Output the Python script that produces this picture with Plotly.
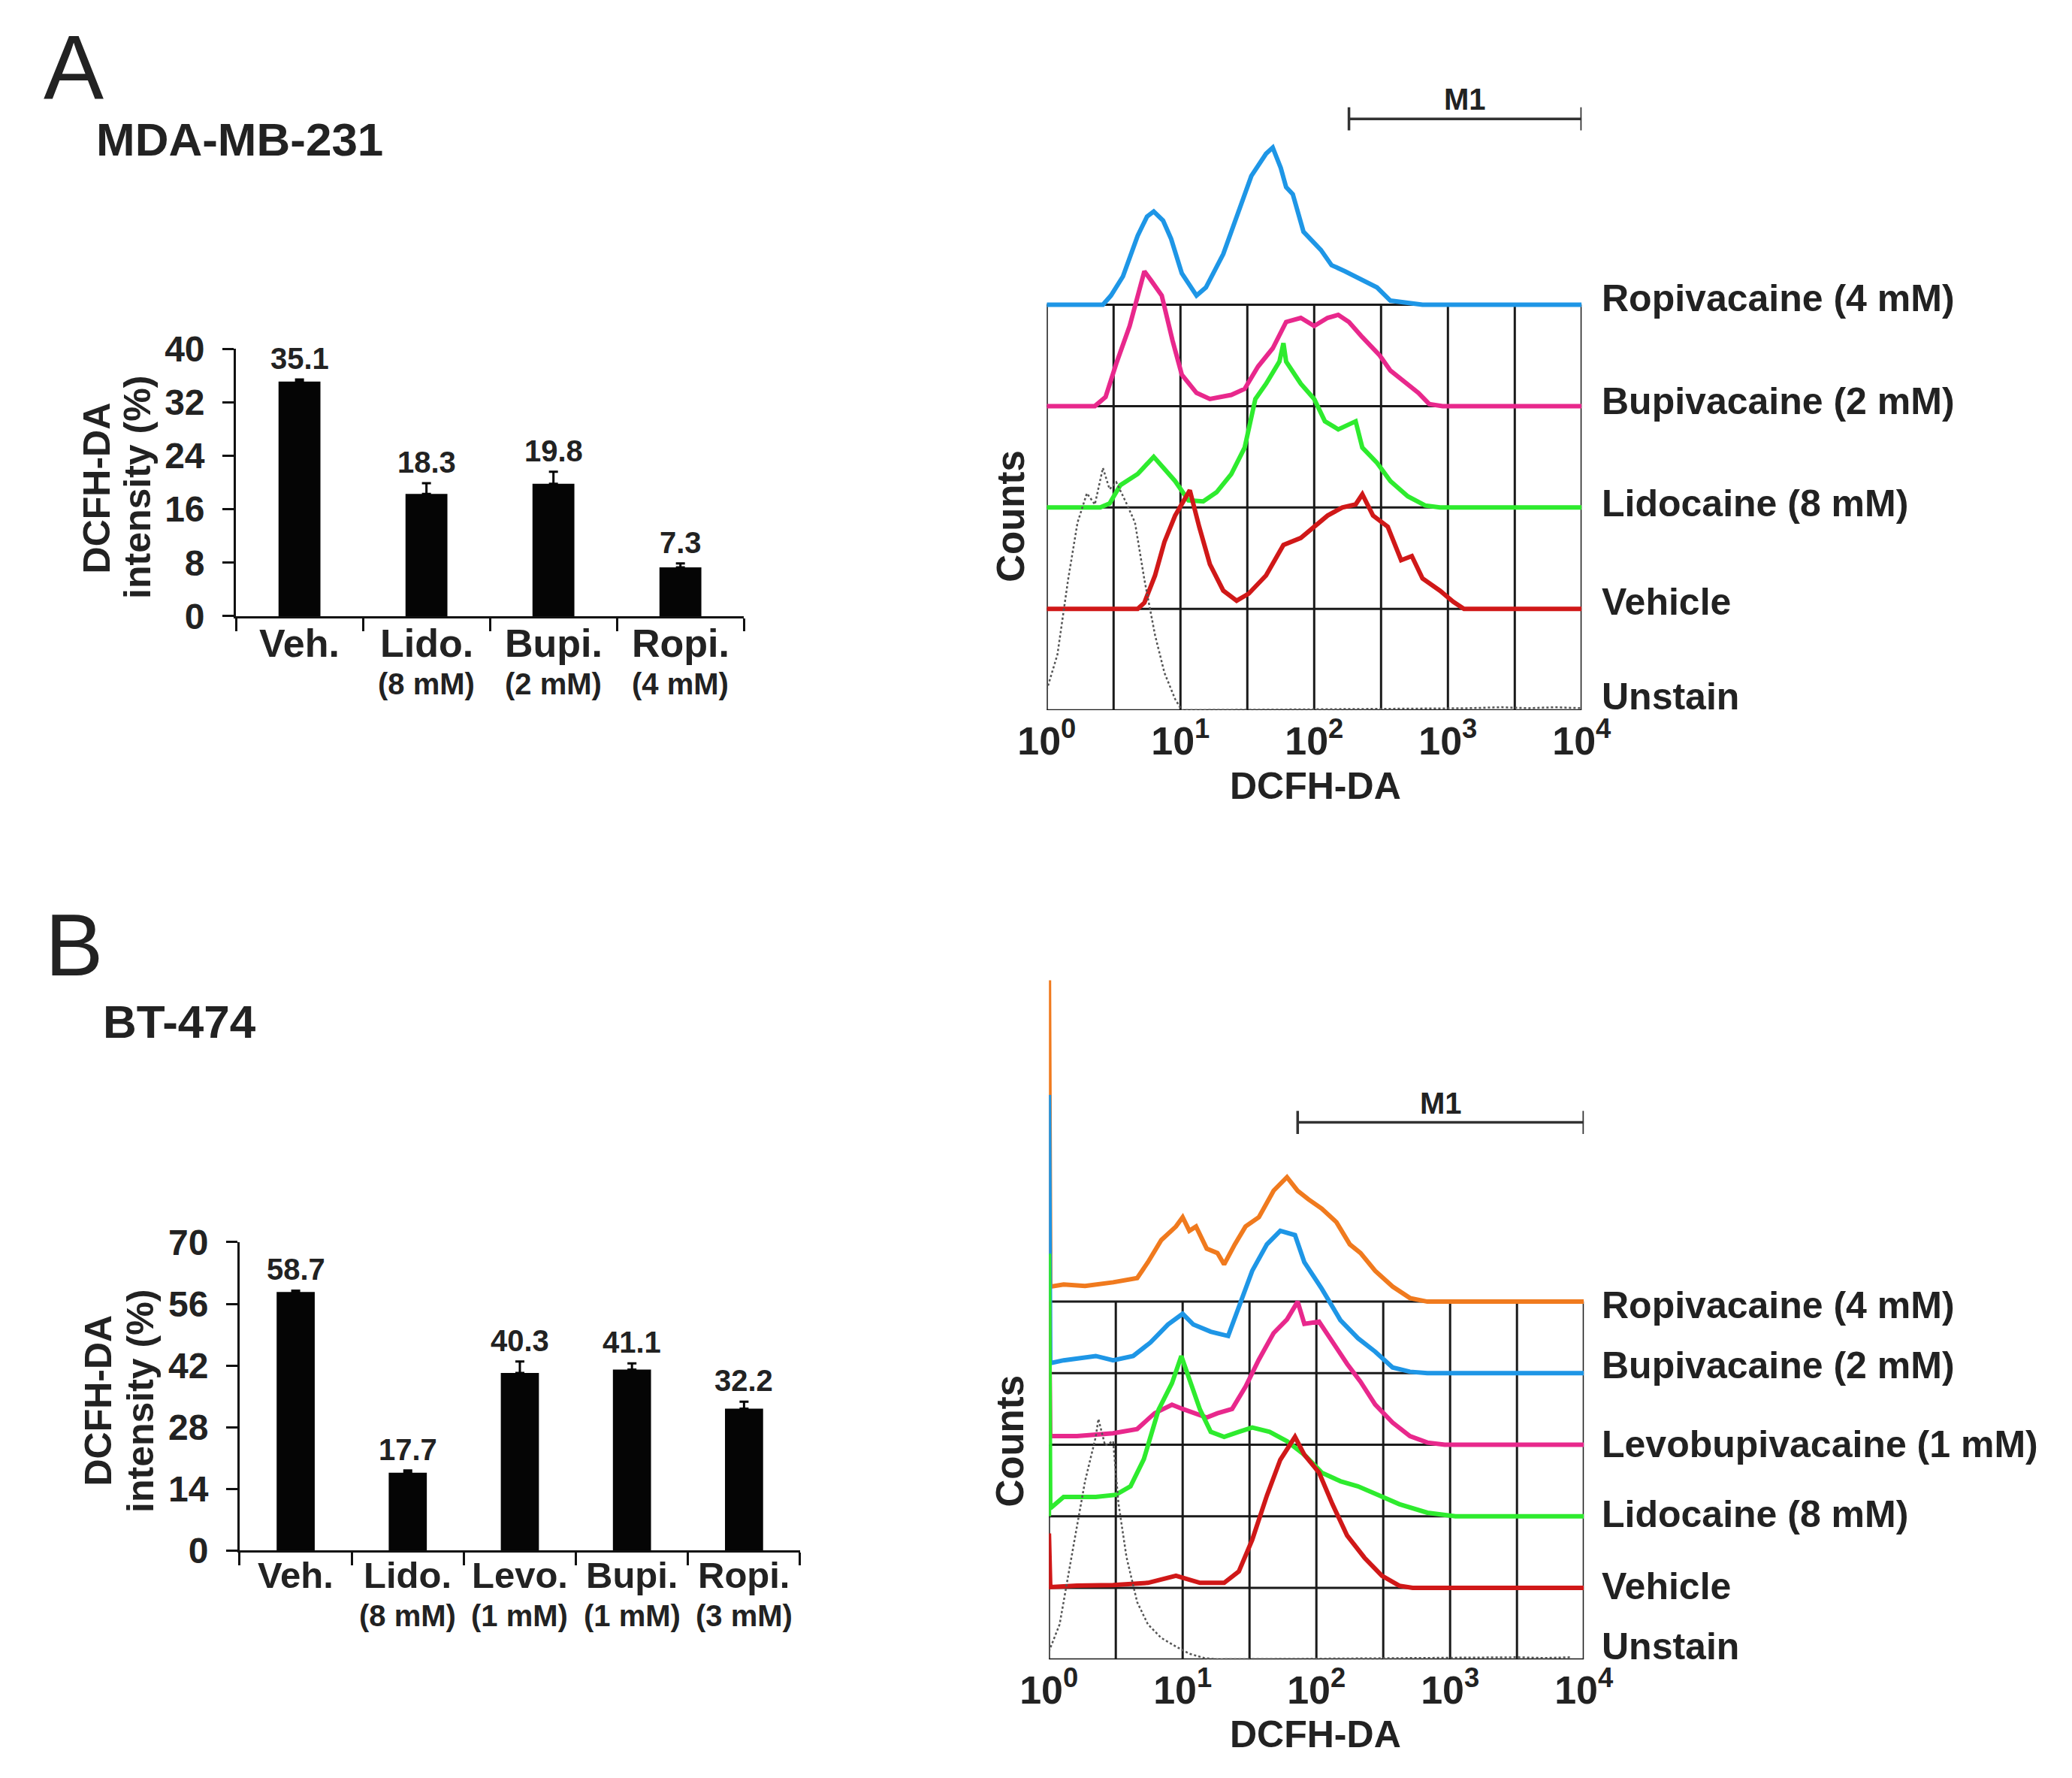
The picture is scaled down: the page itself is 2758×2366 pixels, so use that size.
import plotly.graph_objects as go

# ---------------- data ----------------
# bar chart A (MDA-MB-231)
a_cats = ["Veh.", "Lido.", "Bupi.", "Ropi."]
a_doses = ["", "(8 mM)", "(2 mM)", "(4 mM)"]
a_vals = [35.1, 18.3, 19.8, 7.3]
a_errs = [0.3, 1.6, 1.8, 0.6]
a_yticks = [0, 8, 16, 24, 32, 40]

# bar chart B (BT-474)
b_cats = ["Veh.", "Lido.", "Levo.", "Bupi.", "Ropi."]
b_doses = ["", "(8 mM)", "(1 mM)", "(1 mM)", "(3 mM)"]
b_vals = [58.7, 17.7, 40.3, 41.1, 32.2]
b_errs = [0.3, 0.5, 2.6, 1.4, 1.6]
b_yticks = [0, 14, 28, 42, 56, 70]

# histograms, x in decades of DCFH-DA (10^x), counts in lane units (100 = one lane)
a_ropi_x = [0, 0.42, 0.48, 0.57, 0.68, 0.75, 0.80, 0.87, 0.93, 1.01, 1.12, 1.19, 1.32, 1.43, 1.53,
            1.64, 1.69, 1.75, 1.79, 1.84, 1.92, 2.05, 2.13, 2.23, 2.36, 2.47, 2.57, 2.68, 2.81, 4.0]
a_ropi_y = [0, 0, 9, 28, 68, 87, 92, 83, 65, 31, 9, 17, 50, 90, 127,
            149, 155, 135, 116, 109, 72, 54, 39, 33, 24, 17, 4, 2, 0, 0]
a_bupi_x = [0, 0.36, 0.44, 0.52, 0.62, 0.70, 0.73, 0.78, 0.86, 0.94, 1.01, 1.12, 1.22, 1.38, 1.48, 1.58,
            1.69, 1.79, 1.90, 2.00, 2.10, 2.18, 2.26, 2.36, 2.49, 2.57, 2.68, 2.78, 2.86, 2.96, 4.0]
a_bupi_y = [0, 0, 9, 42, 79, 116, 133, 124, 109, 65, 31, 13, 7, 11, 17, 39,
            57, 83, 87, 79, 87, 90, 83, 68, 50, 35, 24, 13, 2, 0, 0]
a_lido_x = [0, 0.40, 0.47, 0.55, 0.68, 0.80, 0.86, 0.96, 1.06, 1.17, 1.27, 1.38, 1.48, 1.56, 1.64,
            1.74, 1.77, 1.79, 1.90, 2.00, 2.08, 2.18, 2.31, 2.36, 2.47, 2.57, 2.70, 2.83, 2.94, 4.0]
a_lido_y = [0, 0, 4, 22, 33, 50, 41, 26, 7, 6, 15, 33, 59, 107, 122,
            144, 162, 144, 122, 107, 85, 77, 85, 59, 44, 26, 11, 2, 0, 0]
a_veh_x = [0, 0.68, 0.73, 0.81, 0.88, 0.96, 1.07, 1.10, 1.14, 1.22, 1.32, 1.42, 1.51, 1.64, 1.77,
           1.90, 2.00, 2.10, 2.21, 2.31, 2.36, 2.44, 2.55, 2.65, 2.73, 2.81, 2.94, 3.04, 3.12, 4.0]
a_veh_y = [0, 0, 6, 33, 66, 92, 117, 100, 81, 44, 18, 8, 15, 33, 63,
           70, 81, 92, 100, 103, 113, 92, 81, 48, 52, 30, 18, 7, 0, 0]
a_uns_x = [0, 0.08, 0.16, 0.23, 0.30, 0.36, 0.42, 0.47, 0.52, 0.60, 0.66, 0.73, 0.81, 0.88, 0.96,
           1.01, 3.15, 3.4, 3.6, 3.8, 4.0]
a_uns_y = [20, 55, 129, 185, 214, 203, 239, 218, 225, 203, 185, 129, 74, 37, 11,
           0, 2, 3, 2, 3, 2]

b_ropi_x = [0, 0, 0.01, 0.11, 0.27, 0.48, 0.66, 0.74, 0.84, 0.95, 1.00, 1.05, 1.10, 1.18, 1.26, 1.31,
            1.39, 1.47, 1.57, 1.68, 1.78, 1.86, 1.94, 2.04, 2.15, 2.25, 2.33, 2.44, 2.57, 2.70, 2.83, 4.0]
b_ropi_y = [0, 449, 21, 24, 22, 27, 33, 55, 86, 105, 118, 99, 105, 74, 68, 52,
            80, 105, 118, 155, 174, 155, 143, 130, 111, 80, 68, 43, 21, 5, 0, 0]
b_bupi_x = [0, 0, 0.01, 0.11, 0.35, 0.48, 0.63, 0.76, 0.89, 1.00, 1.08, 1.21, 1.34, 1.42, 1.52,
            1.63, 1.73, 1.84, 1.91, 2.04, 2.18, 2.31, 2.44, 2.57, 2.70, 2.83, 4.0]
b_bupi_y = [0, 389, 14, 18, 24, 18, 24, 43, 68, 83, 68, 58, 52, 93, 143,
            180, 199, 193, 155, 118, 74, 49, 30, 8, 2, 0, 0]
b_levo_x = [0, 0, 0.01, 0.21, 0.48, 0.66, 0.79, 0.92, 1.00, 1.10, 1.18, 1.26, 1.37, 1.47, 1.57,
            1.68, 1.78, 1.86, 1.91, 2.02, 2.12, 2.23, 2.33, 2.44, 2.57, 2.70, 2.83, 2.96, 4.0]
b_levo_y = [0, 200, 12, 12, 16, 22, 44, 56, 50, 44, 38, 44, 50, 81, 119,
            156, 175, 200, 169, 172, 144, 113, 88, 56, 31, 12, 3, 0, 0]
b_lido_x = [0, 0, 0.01, 0.11, 0.35, 0.50, 0.61, 0.71, 0.82, 0.92, 0.99, 1.05, 1.13, 1.21, 1.31,
            1.42, 1.52, 1.65, 1.78, 1.91, 2.04, 2.18, 2.31, 2.46, 2.62, 2.83, 3.04, 4.0]
b_lido_y = [0, 367, 11, 27, 27, 30, 42, 80, 149, 186, 224, 193, 149, 118, 111,
            118, 124, 118, 105, 86, 61, 49, 42, 30, 17, 5, 0, 0]
b_veh_x = [0, 0, 0.01, 0.21, 0.48, 0.74, 0.95, 1.13, 1.31, 1.42, 1.52, 1.63, 1.73, 1.84, 1.91,
           2.02, 2.12, 2.23, 2.36, 2.49, 2.62, 2.72, 4.0]
b_veh_y = [0, 76, 1, 3, 4, 7, 17, 7, 7, 23, 67, 129, 179, 211, 186,
           161, 117, 73, 42, 17, 3, 0, 0]
b_uns_x = [0, 0.08, 0.18, 0.27, 0.35, 0.37, 0.42, 0.48, 0.52, 0.58, 0.66, 0.74, 0.84, 0.95,
           1.05, 1.16, 1.26, 3.2, 3.5, 3.7, 3.9]
b_uns_y = [11, 49, 155, 249, 311, 336, 299, 305, 218, 143, 80, 49, 30, 18,
           8, 2, 0, 2, 3, 2, 3]

a_m1 = [2.26, 4.0]
b_m1 = [1.86, 4.0]
decade_ticks = [0, 1, 2, 3, 4]
decade_text = ["10<sup>0</sup>", "10<sup>1</sup>", "10<sup>2</sup>", "10<sup>3</sup>", "10<sup>4</sup>"]

# ---------------- layout helpers ----------------
W, H = 2758, 2366
OFF = 8  # the page's body margin pushes the figure by this much
FONT = "Liberation Sans, Arial, sans-serif"
INK = "#222222"


def xp(px):
    return (px - OFF) / W


def yp(py):
    return 1 - (py - OFF) / H


fig = go.Figure()
annotations = []
shapes = []


def ann(text, x, y, size, bold=True, angle=0, xanchor="center", yanchor="middle"):
    annotations.append(dict(
        text=text, x=xp(x), y=yp(y), xref="paper", yref="paper", showarrow=False,
        xanchor=xanchor, yanchor=yanchor, textangle=angle,
        font=dict(family=FONT, size=size, color=INK, weight="bold" if bold else "normal")))


def bar_panel(n, cats, doses, vals, errs, yticks, x0, x1, y0, y1, bar_w, cat_size, cat_dy, dose_dy):
    fig.add_trace(go.Bar(
        x=cats, y=vals, width=bar_w, marker=dict(color="#050505", line=dict(width=0)),
        error_y=dict(type="data", symmetric=False, array=errs, arrayminus=[0] * len(errs),
                     color="#050505", thickness=3, width=6),
        xaxis=f"x{n}", yaxis=f"y{n}", showlegend=False))
    fig.update_layout(**{
        f"xaxis{n}": dict(domain=[xp(x0), xp(x1)], anchor=f"y{n}", type="category",
                          range=[-0.5, len(cats) - 0.5], showline=True, linewidth=3, linecolor="#111",
                          ticks="outside", tickson="boundaries", ticklen=17, tickwidth=3,
                          tickcolor="#111", showgrid=False, showticklabels=False),
        f"yaxis{n}": dict(domain=[yp(y0), yp(y1)], anchor=f"x{n}", range=[0, yticks[-1]],
                          tickvals=yticks, showline=True, linewidth=3, linecolor="#111",
                          ticks="outside", ticklen=15, tickwidth=3, tickcolor="#111",
                          showgrid=False, zeroline=False, ticklabelstandoff=14,
                          tickfont=dict(family=FONT, size=48, color=INK, weight="bold")),
    })
    for c, v, e in zip(cats, vals, errs):
        annotations.append(dict(
            text=f"{v}", x=c, y=v + e, xref=f"x{n}", yref=f"y{n}", showarrow=False,
            yanchor="bottom", yshift=4,
            font=dict(family=FONT, size=40, color=INK, weight="bold")))
    # category names and doses under the axis
    for c, d in zip(cats, doses):
        annotations.append(dict(
            text=c, x=c, y=yp(y0 + cat_dy), xref=f"x{n}", yref="paper", showarrow=False,
            yanchor="middle", font=dict(family=FONT, size=cat_size, color=INK, weight="bold")))
        if d:
            annotations.append(dict(
                text=d, x=c, y=yp(y0 + dose_dy), xref=f"x{n}", yref="paper", showarrow=False,
                yanchor="middle", font=dict(family=FONT, size=40, color=INK, weight="bold")))


def hist_panel(n, curves, labels, x0, x1, base_px, lane_px, top_px, m1, m1_px, label_shift):
    lanes = len(curves) - 1
    top = (base_px - top_px) / lane_px * 100
    fig.update_layout(**{
        f"xaxis{n}": dict(domain=[xp(x0), xp(x1)], anchor=f"y{n}", range=[0, 4],
                          tickvals=decade_ticks, ticktext=decade_text, ticks="",
                          showline=False, showgrid=False, zeroline=False, ticklabelstandoff=6,
                          tickfont=dict(family=FONT, size=52, color=INK, weight="bold")),
        f"yaxis{n}": dict(domain=[yp(base_px), yp(top_px)], anchor=f"x{n}", range=[0, top],
                          visible=False),
    })
    # grid: half-decade verticals and one horizontal per lane baseline
    for k in range(9):
        shapes.append(dict(type="line", xref=f"x{n}", yref=f"y{n}", x0=k * 0.5, x1=k * 0.5,
                           y0=0, y1=lanes * 100, line=dict(color="#1a1a1a", width=3),
                           layer="below"))
    for lane in range(lanes + 1):
        shapes.append(dict(type="line", xref=f"x{n}", yref=f"y{n}", x0=0, x1=4,
                           y0=lane * 100, y1=lane * 100, line=dict(color="#1a1a1a", width=3),
                           layer="below"))
    # curves, drawn from the top lane down
    for (xs, ys, color, dash), lane in zip(curves, range(lanes, -1, -1)):
        fig.add_trace(go.Scatter(
            x=xs, y=[v + lane * 100 for v in ys], mode="lines",
            line=dict(color=color, width=2.5 if dash else 6, dash=dash or "solid"),
            xaxis=f"x{n}", yaxis=f"y{n}", showlegend=False))
    # M1 marker gate
    m1_y = (base_px - m1_px) / lane_px * 100
    fig.add_trace(go.Scatter(
        x=m1, y=[m1_y, m1_y], mode="lines+markers", line=dict(color="#333", width=3.5),
        marker=dict(symbol="line-ns", size=22, line=dict(color="#333", width=3.5)),
        xaxis=f"x{n}", yaxis=f"y{n}", showlegend=False))
    annotations.append(dict(
        text="M1", x=(m1[0] + m1[1]) / 2, y=m1_y, xref=f"x{n}", yref=f"y{n}", showarrow=False,
        yanchor="middle", yshift=26, font=dict(family=FONT, size=40, color=INK, weight="bold")))
    for (label, shift), lane in zip(zip(labels, label_shift), range(lanes, -1, -1)):
        annotations.append(dict(
            text=label, x=xp(2152), y=lane * 100, xref="paper", yref=f"y{n}", showarrow=False,
            xanchor="left", yanchor="middle", yshift=shift,
            font=dict(family=FONT, size=50, color=INK, weight="bold")))


BLUE, PINK, GREEN, RED, ORANGE, GRAY = "#1e96e6", "#e8288c", "#2eeb2e", "#d01818", "#f07a1e", "#555555"

# ---------------- panel A ----------------
ann("A", 61, 64, 120, bold=False)
ann("MDA-MB-231", 288, 163, 62)
bar_panel("", a_cats, a_doses, a_vals, a_errs, a_yticks, 283, 979, 812, 448, 0.33, 52, 37, 92)
ann("DCFH-DA", 92, 638, 50, angle=-90)
ann("intensity (%)", 148, 636, 50, angle=-90)

hist_panel(2, [(a_ropi_x, a_ropi_y, BLUE, None), (a_bupi_x, a_bupi_y, PINK, None),
               (a_lido_x, a_lido_y, GREEN, None), (a_veh_x, a_veh_y, RED, None),
               (a_uns_x, a_uns_y, GRAY, "dot")],
           ["Ropivacaine (4 mM)", "Bupivacaine (2 mM)", "Lidocaine (8 mM)", "Vehicle", "Unstain"],
           1394, 2127, 940, 138, 60, a_m1, 135, [8, 6, 5, 9, 18])
ann("DCFH-DA", 1762, 1043, 50)
ann("Counts", 1344, 676, 51, angle=-90)

# ---------------- panel B ----------------
ann("B", 61, 1260, 116, bold=False)
ann("BT-474", 206, 1364, 62)
bar_panel(3, b_cats, b_doses, b_vals, b_errs, b_yticks, 288, 1056, 2084, 1664, 0.34, 49, 33, 88)
ann("DCFH-DA", 95, 1880, 50, angle=-90)
ann("intensity (%)", 152, 1880, 50, angle=-90)

hist_panel(4, [(b_ropi_x, b_ropi_y, ORANGE, None), (b_bupi_x, b_bupi_y, BLUE, None),
               (b_levo_x, b_levo_y, PINK, None), (b_lido_x, b_lido_y, GREEN, None),
               (b_veh_x, b_veh_y, RED, None), (b_uns_x, b_uns_y, GRAY, "dot")],
           ["Ropivacaine (4 mM)", "Bupivacaine (2 mM)", "Levobupivacaine (1 mM)",
            "Lidocaine (8 mM)", "Vehicle", "Unstain"],
           1397, 2130, 2232, 97.4, 1290, b_m1, 1501, [-5, 10, 1, 3, 2, 17])
ann("DCFH-DA", 1762, 2334, 50)
ann("Counts", 1344, 1935, 51, angle=-90)

fig.update_layout(
    width=W, height=H, margin=dict(l=0, r=0, t=0, b=0),
    paper_bgcolor="white", plot_bgcolor="rgba(0,0,0,0)",
    annotations=annotations, shapes=shapes, showlegend=False,
    font=dict(family=FONT, color=INK),
)

fig.write_html("out.html")
